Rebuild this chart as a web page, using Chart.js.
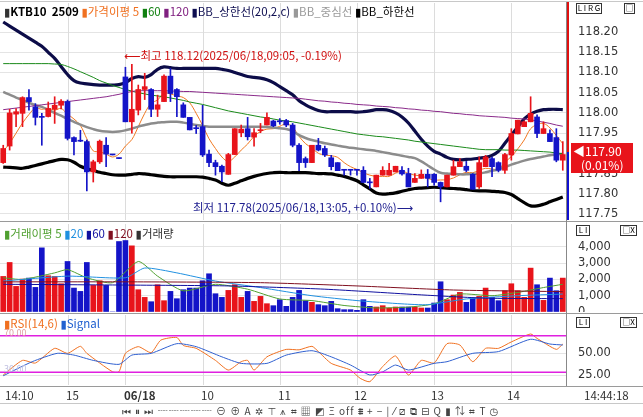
<!DOCTYPE html>
<html><head><meta charset="utf-8">
<script src="https://cdn.jsdelivr.net/npm/chart.js@4.4.1/dist/chart.umd.min.js"></script>
<style>
body{margin:0;background:#fff;width:643px;height:417px;overflow:hidden;position:relative;font-family:"Noto Sans CJK KR","DejaVu Sans",sans-serif;}
.p{position:absolute;}
canvas{position:absolute;left:0;}
.t{position:absolute;white-space:nowrap;font-size:11px;line-height:13px;}
.hl{position:absolute;left:0;width:643px;height:1px;background:#9a9a9a;}
.box{position:absolute;border:1px solid #333;font-size:8px;line-height:8px;text-align:center;background:#fff;}
</style></head><body>
<canvas id="c1" width="643" height="217" style="top:3px"></canvas>
<canvas id="c2" width="643" height="88" style="top:224px"></canvas>
<canvas id="c3" width="643" height="70" style="top:315px"></canvas>
<div class="hl" style="top:1px;background:#c8c8c8"></div>
<div class="hl" style="top:221px"></div>
<div class="hl" style="top:313px"></div>
<div class="hl" style="top:386px"></div>
<div class="hl" style="top:403px;background:#c8c8c8"></div>
<div class="p" style="left:567px;top:2px;width:2px;height:150px;background:#e01010"></div>
<div class="p" style="left:567px;top:152px;width:2px;height:68px;background:#1010d0"></div>
<div class="p" style="left:566px;top:2px;width:1px;height:384px;background:#888"></div>

<div class="t" style="left:4px;top:5px;font-size:11.5px">
<span style="color:#333">▮</span><b style="font-weight:600">KTB10&nbsp; 2509</b>
<span style="color:#f07020">▮가격이평 5</span>
<span style="color:#108010">▮60</span>
<span style="color:#802080">▮120</span>
<span style="color:#0d0d50">▮BB_상한선(20,2,c)</span>
<span style="color:#999">▮BB_중심선</span>
<span style="color:#000">▮BB_하한선</span></div>
<div class="t" style="left:124px;top:49px;color:#d01010;font-size:11.5px">⟵최고 118.12(2025/06/18,09:05, -0.19%)</div>
<div class="t" style="left:193px;top:201px;color:#202090;font-size:11.5px">최저 117.78(2025/06/18,13:05, +0.10%)⟶</div>
<div class="p" style="left:571px;top:143px;width:62px;height:30px;background:#e8141b"></div>
<div class="t" style="left:573px;top:144px;color:#fff;font-size:12px">◀117.90</div>
<div class="t" style="left:581px;top:158px;color:#fff;font-size:12px">(0.01%)</div>

<div class="t" style="left:4px;top:227px;font-size:11.5px"><span style="color:#50a030">▮거래이평 5</span> <span style="color:#2090e0">▮20</span> <span style="color:#1010a0">▮60</span> <span style="color:#801020">▮120</span> <span style="color:#333">▮거래량</span></div>
<div class="t" style="left:4px;top:317px;font-size:11.5px"><span style="color:#f07020">▮RSI(14,6)</span> <span style="color:#2060d0">▮Signal</span></div>
<div class="t" style="left:4px;top:326px;font-size:9px;color:#e0a0a0">70.00</div>
<div class="t" style="left:4px;top:362px;font-size:9px;color:#c0c0e0">30.00</div>

<div class="box" style="left:576px;top:3px;width:24px;height:9px">L I R G</div>
<div class="box" style="left:624px;top:3px;width:9px;height:9px">□</div>
<div class="box" style="left:576px;top:225px;width:12px;height:9px">L I</div>
<div class="box" style="left:620px;top:225px;width:15px;height:9px">□X</div>
<div class="box" style="left:576px;top:317px;width:12px;height:9px">L I</div>
<div class="box" style="left:620px;top:317px;width:15px;height:9px">□X</div>

<div class="t" style="left:5px;top:389px;color:#333;font-size:11.5px">14:10</div>
<div class="t" style="left:66px;top:389px;color:#333;font-size:11.5px">15</div>
<div class="t" style="left:124px;top:389px;color:#333;font-size:11.5px;font-weight:bold">06/18</div>
<div class="t" style="left:201px;top:389px;color:#333;font-size:11.5px">10</div>
<div class="t" style="left:278px;top:389px;color:#333;font-size:11.5px">11</div>
<div class="t" style="left:354px;top:389px;color:#333;font-size:11.5px">12</div>
<div class="t" style="left:431px;top:389px;color:#333;font-size:11.5px">13</div>
<div class="t" style="left:507px;top:389px;color:#333;font-size:11.5px">14</div>
<div class="t" style="left:584px;top:389px;color:#333;font-size:11.5px">14:44:18</div>
<div class="t" style="left:122px;top:404px;color:#444;font-size:10px;letter-spacing:1px">⏮ ⏸ ⏭ ┈┈┈┈┈ ⊖ ⊕ A ✲ ⊤ ⩚ ⌗ ▦ ◩ Ξ off ⩩ + − | ⁄ ⧄ ⧉ ⊟ Q ▮ ⇅ ⌗ T ◷</div>

<script>
const labels = Array.from({length:88},(_,i)=>i);
const opens=[117.877,117.918,117.997,117.999,118.038,118.015,117.991,117.991,118.009,118.019,118.028,117.939,117.932,117.929,117.854,117.879,117.920,117.897,117.888,118.089,117.978,118.007,118.058,118.058,118.009,118.028,118.091,118.058,118.020,117.989,117.962,117.966,117.898,117.877,117.868,117.848,117.897,117.951,117.961,117.940,117.956,117.970,117.980,117.979,117.981,117.970,117.920,117.887,117.877,117.920,117.912,117.889,117.877,117.859,117.859,117.859,117.858,117.828,117.817,117.846,117.846,117.854,117.858,117.850,117.828,117.838,117.848,117.848,117.828,117.817,117.846,117.867,117.868,117.848,117.817,117.867,117.887,117.877,117.858,117.896,117.948,117.966,117.978,117.990,117.949,117.949,117.939,117.883];
const highs=[117.920,118.009,118.011,118.040,118.058,118.023,117.999,118.027,118.040,118.033,118.032,117.941,117.957,117.933,117.883,117.933,117.939,117.897,117.888,118.113,118.120,118.069,118.098,118.060,118.044,118.094,118.110,118.060,118.025,117.989,117.969,118.019,117.908,117.883,117.871,117.900,117.961,117.970,117.989,117.961,117.974,118.000,117.982,117.986,117.984,117.974,117.924,117.891,117.920,117.937,117.918,117.895,117.877,117.859,117.859,117.859,117.867,117.838,117.846,117.867,117.875,117.868,117.867,117.863,117.850,117.859,117.860,117.850,117.829,117.846,117.883,117.887,117.880,117.850,117.891,117.895,117.891,117.879,117.900,117.961,117.982,117.980,118.040,117.995,117.978,117.958,117.961,117.929];
const lows=[117.875,117.908,117.966,117.966,118.007,117.970,117.920,117.990,117.974,118.010,117.933,117.896,117.929,117.807,117.829,117.875,117.867,117.896,117.887,117.978,117.950,117.995,118.033,117.991,117.991,118.028,118.028,117.991,117.989,117.958,117.949,117.892,117.867,117.846,117.830,117.848,117.897,117.941,117.933,117.918,117.951,117.970,117.966,117.972,117.966,117.916,117.857,117.865,117.877,117.906,117.892,117.859,117.857,117.846,117.846,117.846,117.828,117.813,117.817,117.846,117.846,117.854,117.846,117.817,117.828,117.838,117.817,117.821,117.780,117.817,117.846,117.867,117.854,117.811,117.813,117.867,117.842,117.854,117.850,117.883,117.948,117.966,117.978,117.939,117.949,117.929,117.879,117.858];
const closes=[117.912,118.000,118.003,118.038,118.028,117.989,117.989,118.011,118.019,118.029,117.937,117.929,117.930,117.854,117.879,117.930,117.898,117.896,117.887,117.978,118.009,118.058,118.065,118.009,118.020,118.091,118.048,118.040,117.989,117.958,117.961,117.896,117.877,117.867,117.854,117.897,117.961,117.960,117.941,117.951,117.958,117.989,117.968,117.978,117.970,117.920,117.877,117.877,117.920,117.908,117.896,117.867,117.857,117.858,117.858,117.858,117.828,117.827,117.846,117.858,117.858,117.868,117.849,117.817,117.838,117.848,117.838,117.828,117.817,117.846,117.867,117.879,117.858,117.811,117.877,117.891,117.867,117.858,117.897,117.949,117.982,117.978,117.999,117.949,117.961,117.929,117.883,117.897];
const ma5=[117.905,117.925,117.950,117.975,117.996,118.012,118.009,118.011,118.007,118.011,117.997,117.985,117.969,117.936,117.906,117.904,117.898,117.891,117.898,117.918,117.934,117.966,117.999,118.024,118.032,118.049,118.047,118.042,118.038,118.025,117.999,117.969,117.936,117.912,117.891,117.880,117.891,117.908,117.923,117.942,117.954,117.960,117.961,117.967,117.973,117.965,117.942,117.924,117.913,117.900,117.896,117.894,117.890,117.877,117.867,117.860,117.852,117.846,117.843,117.843,117.843,117.851,117.856,117.850,117.846,117.844,117.838,117.834,117.834,117.835,117.839,117.847,117.853,117.852,117.858,117.863,117.861,117.861,117.878,117.892,117.911,117.933,117.961,117.971,117.974,117.963,117.944,117.924];
const ma60=[118.122,118.122,118.122,118.122,118.122,118.122,118.122,118.122,118.121,118.120,118.115,118.109,118.102,118.095,118.088,118.080,118.074,118.068,118.063,118.058,118.054,118.050,118.047,118.044,118.042,118.040,118.037,118.034,118.031,118.027,118.024,118.021,118.017,118.013,118.009,118.005,118.002,117.999,117.996,117.993,117.990,117.988,117.985,117.982,117.980,117.978,117.975,117.972,117.969,117.966,117.963,117.960,117.957,117.954,117.951,117.948,117.946,117.944,117.942,117.941,117.939,117.937,117.935,117.933,117.930,117.928,117.926,117.924,117.922,117.920,117.918,117.916,117.914,117.912,117.910,117.909,117.909,117.909,117.908,117.908,117.908,117.907,117.906,117.905,117.904,117.903,117.901,117.899];
const ma120=[118.008,118.010,118.012,118.014,118.016,118.018,118.020,118.022,118.024,118.026,118.028,118.030,118.032,118.034,118.036,118.038,118.040,118.043,118.046,118.050,118.053,118.055,118.055,118.055,118.055,118.055,118.054,118.054,118.053,118.053,118.052,118.051,118.050,118.049,118.048,118.047,118.046,118.045,118.044,118.043,118.042,118.041,118.040,118.039,118.038,118.037,118.036,118.034,118.032,118.030,118.029,118.027,118.026,118.024,118.023,118.021,118.020,118.019,118.017,118.016,118.015,118.013,118.012,118.010,118.009,118.007,118.006,118.004,118.003,118.001,117.999,117.998,117.996,117.995,117.993,117.992,117.991,117.990,117.989,117.987,117.986,117.985,117.983,117.980,117.977,117.974,117.970,117.967];
const bbUpper=[118.225,118.215,118.205,118.195,118.185,118.175,118.165,118.150,118.135,118.115,118.095,118.080,118.074,118.072,118.070,118.069,118.069,118.069,118.070,118.075,118.085,118.090,118.088,118.095,118.108,118.114,118.112,118.110,118.110,118.110,118.110,118.110,118.110,118.110,118.108,118.105,118.100,118.095,118.090,118.088,118.086,118.082,118.075,118.065,118.055,118.045,118.030,118.020,118.012,118.006,118.003,118.003,118.003,118.003,118.003,118.002,118.003,118.005,118.008,118.008,118.006,118.000,117.990,117.975,117.955,117.935,117.918,117.905,117.898,117.890,117.885,117.884,117.885,117.886,117.888,117.890,117.895,117.905,117.925,117.945,117.965,117.985,117.997,118.004,118.008,118.009,118.009,118.008];
const bbMid=[118.052,118.045,118.038,118.032,118.025,118.019,118.015,118.008,118.000,117.993,117.985,117.978,117.971,117.965,117.960,117.956,117.954,117.953,117.954,117.957,117.961,117.966,117.970,117.974,117.976,117.977,117.978,117.978,117.976,117.973,117.970,117.968,117.966,117.966,117.966,117.966,117.966,117.966,117.966,117.966,117.966,117.965,117.964,117.962,117.960,117.955,117.945,117.938,117.933,117.929,117.925,117.922,117.919,117.916,117.914,117.912,117.910,117.908,117.906,117.903,117.900,117.897,117.894,117.891,117.888,117.880,117.870,117.860,117.852,117.850,117.849,117.848,117.848,117.849,117.850,117.853,117.857,117.860,117.866,117.872,117.877,117.882,117.886,117.889,117.892,117.895,117.897,117.899];
const bbLower=[117.866,117.865,117.864,117.863,117.866,117.870,117.874,117.878,117.882,117.885,117.884,117.878,117.868,117.862,117.858,117.853,117.850,117.847,117.846,117.846,117.848,117.850,117.849,117.847,117.845,117.843,117.842,117.842,117.842,117.842,117.842,117.841,117.838,117.834,117.826,117.821,117.826,117.832,117.838,117.843,117.847,117.850,117.852,117.853,117.852,117.852,117.852,117.852,117.851,117.850,117.850,117.849,117.846,117.843,117.838,117.832,117.822,117.812,117.802,117.799,117.800,117.802,117.806,117.810,117.813,117.814,117.815,117.816,117.815,117.814,117.813,117.812,117.810,117.808,117.807,117.807,117.806,117.805,117.803,117.798,117.788,117.778,117.770,117.770,117.774,117.780,117.786,117.792];
const volume=[2183,3040,1571,2020,2081,1510,3937,2224,2183,1734,3101,1469,1265,3040,1632,1918,1632,0,4325,4386,4060,1367,898,632,1673,694,1265,816,1367,1469,1469,1918,2346,1122,898,1326,1673,898,1265,653,959,510,388,755,347,898,1326,694,592,449,388,653,204,143,143,102,755,347,306,388,245,306,306,306,306,245,245,551,1856,755,1040,1204,592,857,959,1469,898,694,1306,1734,1306,898,2693,1673,714,2081,1306,2081];
const volMa5=[[0,2100],[3,2000],[8,2400],[10,2600],[13,2100],[17,1800],[21,3100],[24,2200],[28,1300],[33,1700],[38,1400],[43,800],[48,700],[53,400],[58,250],[63,300],[67,500],[71,1100],[76,1000],[80,1200],[84,1500],[87,1700]];
const volMa20=[[0,1900],[10,2200],[19,2100],[22,2700],[27,2400],[33,1900],[40,1500],[48,1000],[55,700],[62,500],[66,450],[72,800],[80,1000],[87,1100]];
const volMa60=[[0,1700],[20,1650],[35,1600],[50,1400],[65,1050],[75,850],[87,820]];
const volMa120=[[0,1850],[20,1850],[40,1800],[55,1600],[70,1350],[87,1250]];
const rsi=[[0,25.4],[3,42],[5,39],[8,55.7],[10,50],[12,58],[13,50],[17,29],[18,29],[19,50],[21,57.6],[23,50.8],[24.5,65],[27,68],[28,59],[30,55.7],[33,42],[35,31],[37,40.5],[38,42],[39,31],[41,46],[44,54.5],[46,54],[48,58],[49,52],[51,38.6],[54,31],[55.5,21.6],[57,17.8],[59,35],[61,47],[63,25.4],[65,42],[67,39],[69,61],[71,59.5],[73,40.5],[75,55.7],[77,55.7],[79,63],[82,72],[83,67],[86,54.5],[87,60.6]];
const signal=[[0,24.5],[4.5,40.5],[8.4,50],[11,48],[14,42],[18,37.5],[20,48],[23,50],[27,61],[30,57.6],[34,46],[37,38.6],[41,38.6],[44,48],[48,53],[51,46],[54,36.7],[57,25.4],[59,29],[61,36.7],[63,31],[67,38.6],[69,40.5],[73,50],[77,52],[82,66],[85,60.6],[87,59.5]];
const priceTicks=[117.75,117.80,117.85,117.90,117.95,118.00,118.05,118.10,118.15,118.20];
const volTicks=[0,1000,2000,3000,4000];
const rsiTicks=[25,50];
const hourBars=[10,19,31,43,55,67,79];

const RED='#e8141b', BLUE='#1414c8';
const up=closes.map((c,i)=>c>=opens[i]);
const candleCol=up.map(u=>u?RED:BLUE);
Chart.defaults.animation=false;
Chart.defaults.font.family='"DejaVu Sans",sans-serif';

const hourGrid={id:'hourGrid',beforeDatasetsDraw(ch){
  const x=ch.scales.x,a=ch.chartArea,ctx=ch.ctx;ctx.save();ctx.strokeStyle='#dcdcdc';ctx.lineWidth=1;
  hourBars.forEach(b=>{const px=Math.round(x.getPixelForValue(b))+0.5;ctx.beginPath();ctx.moveTo(px,a.top);ctx.lineTo(px,a.bottom);ctx.stroke();});
  ctx.restore();}};
function yAxis(min,max,ticks,fmt){return {position:'right',min,max,
  afterFit:s=>{s.width=77;s.paddingTop=0;s.paddingBottom=0;},
  afterBuildTicks:s=>{s.ticks=ticks.map(v=>({value:v}));},
  border:{display:false},
  grid:{color:'#e4e4e4',drawTicks:false},
  ticks:{color:'#333',font:{size:11.5},padding:12,callback:fmt}};}
const common={responsive:false,maintainAspectRatio:false,devicePixelRatio:1,layout:{padding:0},
  plugins:{legend:{display:false},tooltip:{enabled:false}}};
const ln=(data,color,w,extra)=>Object.assign({type:'line',data,borderColor:color,borderWidth:w,pointRadius:0,tension:0.35,fill:false},extra||{});
const pts=arr=>arr.map(p=>({x:p[0],y:p[1]}));

new Chart(document.getElementById('c1'),{type:'bar',data:{labels,datasets:[
  ln(ma120,'#8a2a8a',1),
  ln(ma60,'#1a8a1a',1),
  ln(bbMid,'#8c8c8c',2.5),
  ln(bbUpper,'#0c0c48',3.2),
  ln(bbLower,'#000',3.2),
  ln(ma5,'#f07820',1),
  {data:lows.map((l,i)=>[l,highs[i]]),backgroundColor:candleCol,barThickness:1,grouped:false,order:-1},
  {data:opens.map((o,i)=>[o,closes[i]]),backgroundColor:candleCol,barThickness:5,grouped:false,minBarLength:1,order:-2}
]},plugins:[hourGrid],options:Object.assign({},common,{scales:{x:{type:'category',offset:true,display:false},y:yAxis(117.735,118.272,priceTicks,v=>v.toFixed(2))}})});

const linX={type:'linear',min:-0.5,max:87.5,offset:false,display:false};
new Chart(document.getElementById('c2'),{type:'bar',data:{datasets:[
  {data:volume.map((v,i)=>({x:i,y:v})),backgroundColor:candleCol,barThickness:5,order:2},
  ln(pts(volMa120),'#801020',1,{tension:0.2}),
  ln(pts(volMa60),'#1010a0',1,{tension:0.2}),
  ln(pts(volMa20),'#2090e0',1,{tension:0.2}),
  ln(pts(volMa5),'#50a030',1,{tension:0.2})
]},plugins:[hourGrid],options:Object.assign({},common,{scales:{x:linX,y:yAxis(0,5400,volTicks,v=>v.toLocaleString('en-US'))}})});

const rsiDs=(arr,col)=>({type:'line',data:pts(arr),borderColor:col,borderWidth:1,pointRadius:0,tension:0.2});
new Chart(document.getElementById('c3'),{type:'line',data:{datasets:[
  {data:[{x:-0.5,y:70},{x:87.5,y:70}],borderColor:'#e020e0',borderWidth:1.5,pointRadius:0},
  {data:[{x:-0.5,y:28.5},{x:87.5,y:28.5}],borderColor:'#e020e0',borderWidth:1.5,pointRadius:0},
  rsiDs(signal,'#3060d0'),
  rsiDs(rsi,'#f07020')
]},plugins:[hourGrid],options:Object.assign({},common,{scales:{x:linX,y:yAxis(14,93.6,rsiTicks,v=>v.toFixed(2))}})});
</script>
</body></html>
